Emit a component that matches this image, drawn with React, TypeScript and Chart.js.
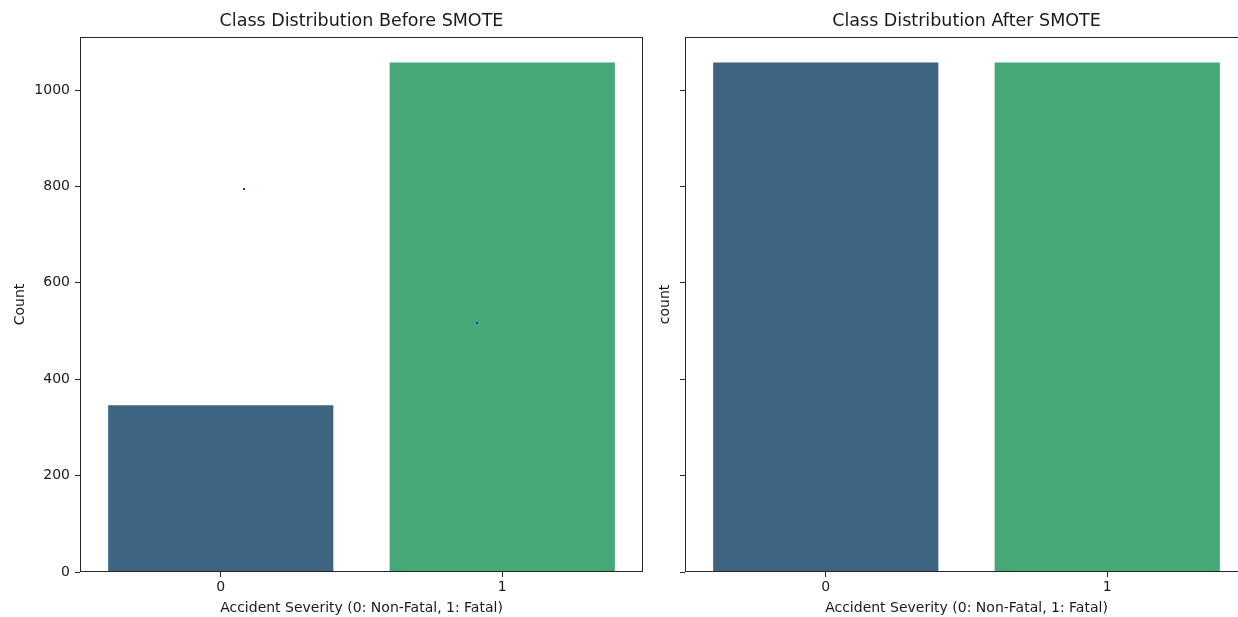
import React, { useEffect, useRef } from "react";
import { Chart, registerables } from "chart.js";

Chart.register(...registerables);

const categories = ["0", "1"];
const beforeCounts = [346, 1057];
const afterCounts = [1057, 1057];
const barColors = ["#3d6480", "#46a777"];
const yTicks = [0, 200, 400, 600, 800, 1000];
const yMax = 1110;
const strayX = [0.082, 0.911];
const strayY = [795, 517];

const FONT = "'DejaVu Sans', sans-serif";
const TEXT = "#1a1a1a";
const LINE = "#262626";

const framePlugin = {
  id: "frame",
  afterDraw(chart: any) {
    const { ctx, chartArea: a } = chart;
    ctx.save();
    ctx.strokeStyle = LINE;
    ctx.lineWidth = 1;
    const l = Math.round(a.left) + 0.5;
    const t = Math.round(a.top) + 0.5;
    const r = Math.round(a.right) - 0.5;
    const b = Math.round(a.bottom) - 0.5;
    ctx.strokeRect(l, t, r - l, b - t);
    ctx.restore();
  },
};

const strayPlugin = {
  id: "stray",
  afterDatasetsDraw(chart: any, _args: any, opts: any) {
    if (!opts || !opts.show) return;
    const { ctx, scales } = chart;
    const x0 = scales.x.getPixelForValue(0);
    const x1 = scales.x.getPixelForValue(1);
    ctx.save();
    ctx.fillStyle = "#2a2aff";
    strayX.forEach((fx, i) => {
      const px = x0 + fx * (x1 - x0);
      const py = scales.y.getPixelForValue(strayY[i]);
      ctx.fillRect(Math.round(px) - 1, Math.round(py) - 1, 2, 2);
    });
    ctx.restore();
  },
};

function makeConfig(
  title: string,
  values: number[],
  yTitle: string,
  showYLabels: boolean,
  yAxisWidth: number,
  yTitlePad: number,
  rightPad: number,
  showStray: boolean
): any {
  return {
    type: "bar",
    data: {
      labels: categories,
      datasets: [
        {
          data: values,
          backgroundColor: barColors,
          borderWidth: 0,
          categoryPercentage: 0.8,
          barPercentage: 1.0,
        },
      ],
    },
    options: {
      animation: false,
      responsive: false,
      devicePixelRatio: 1,
      layout: { padding: { left: 0, right: rightPad, top: 0, bottom: 0 } },
      plugins: {
        legend: { display: false },
        tooltip: { enabled: false },
        title: {
          display: true,
          fullSize: false,
          text: title,
          color: TEXT,
          font: { family: FONT, size: 17.5, weight: "normal" },
          padding: { top: 10.5, bottom: 5.5 },
        },
        stray: { show: showStray },
      },
      scales: {
        x: {
          type: "category",
          offset: true,
          grid: {
            display: true,
            drawOnChartArea: false,
            drawTicks: true,
            tickLength: 5,
            color: LINE,
            offset: false,
          },
          border: { display: false },
          ticks: {
            color: TEXT,
            font: { family: FONT, size: 14 },
            padding: 2,
            maxRotation: 0,
          },
          title: {
            display: true,
            text: "Accident Severity (0: Non-Fatal, 1: Fatal)",
            color: TEXT,
            font: { family: FONT, size: 14 },
            padding: { top: 0, bottom: 0.5 },
          },
          afterFit: (s: any) => {
            s.height = 45;
          },
        },
        y: {
          type: "linear",
          min: 0,
          max: yMax,
          grid: {
            display: true,
            drawOnChartArea: false,
            drawTicks: true,
            tickLength: 5,
            color: LINE,
          },
          border: { display: false },
          ticks: {
            display: showYLabels,
            color: TEXT,
            font: { family: FONT, size: 14 },
            padding: 5,
            callback: (v: any) => String(v),
          },
          afterBuildTicks: (s: any) => {
            s.ticks = yTicks.map((v) => ({ value: v }));
          },
          title: {
            display: true,
            text: yTitle,
            color: TEXT,
            font: { family: FONT, size: 14 },
            padding: { top: yTitlePad, bottom: 0 },
          },
          afterFit: (s: any) => {
            s.width = yAxisWidth;
          },
        },
      },
    },
    plugins: [framePlugin, strayPlugin],
  };
}

function Panel(props: { left: number; width: number; config: any }) {
  const ref = useRef<HTMLCanvasElement | null>(null);
  useEffect(() => {
    if (!ref.current) return;
    const chart = new Chart(ref.current, props.config);
    return () => chart.destroy();
  }, []);
  return (
    <canvas
      ref={ref}
      width={props.width}
      height={617}
      style={{
        position: "absolute",
        left: props.left,
        top: 0,
        width: props.width,
        height: 617,
      }}
    />
  );
}

export default function App() {
  const leftCfg = makeConfig(
    "Class Distribution Before SMOTE",
    beforeCounts,
    "Count",
    true,
    80,
    12,
    7,
    true
  );
  const rightCfg = makeConfig(
    "Class Distribution After SMOTE",
    afterCounts,
    "count",
    false,
    35,
    7,
    2,
    false
  );
  return (
    <div
      style={{
        position: "absolute",
        left: 0,
        top: 0,
        width: 1238,
        height: 617,
        overflow: "hidden",
        background: "#ffffff",
      }}
    >
      <Panel left={0} width={650} config={leftCfg} />
      <Panel left={650} width={600} config={rightCfg} />
    </div>
  );
}
